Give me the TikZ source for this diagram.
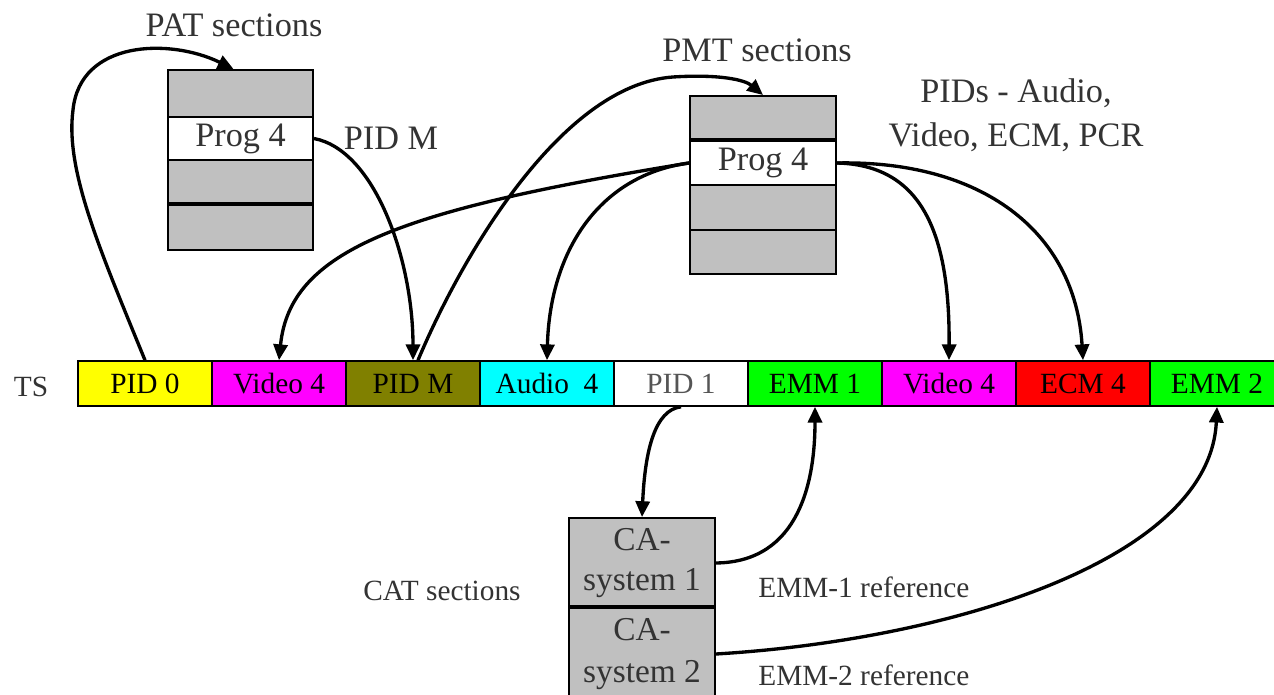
\documentclass[tikz,border=0pt]{standalone}
\usepackage{fontspec}
\setmainfont{Liberation Serif}
\usetikzlibrary{arrows.meta}
\definecolor{lbl}{HTML}{333333}
\definecolor{boxgray}{HTML}{C0C0C0}
\definecolor{olivecell}{HTML}{808000}
\definecolor{greencell}{HTML}{00FF00}
\definecolor{magentacell}{HTML}{FF00FF}
\definecolor{cyancell}{HTML}{00FFFF}
\definecolor{yellowcell}{HTML}{FFFF00}
\definecolor{redcell}{HTML}{FF0000}
\definecolor{pid1text}{HTML}{555555}
\begin{document}
\begin{tikzpicture}[x=0.02cm,y=-0.02cm,
  cell/.style={draw=black,line width=0.9pt,minimum width=2.68cm,minimum height=0.9cm,inner sep=0pt,font=\fontsize{16.7}{20}\selectfont},
  tbl/.style={draw=black,line width=1.1pt,fill=boxgray,minimum width=2.9cm,inner sep=0pt,text=lbl,font=\fontsize{19.5}{24}\selectfont},
  lab/.style={text=lbl,font=\fontsize{19.5}{24}\selectfont,inner sep=0pt},
  slab/.style={text=lbl,font=\fontsize{16.7}{20}\selectfont,inner sep=0pt},
  conn/.style={line width=1.9pt,-{Triangle[length=9pt,width=8pt]}}]
\useasboundingbox (0,0) rectangle (1274,695);

% transport stream cells
\node[cell,fill=yellowcell] (c1) at (145,383.5) {PID 0};
\node[cell,fill=magentacell] (c2) at (279,383.5) {Video 4};
\node[cell,fill=olivecell] (c3) at (413,383.5) {PID M};
\node[cell,fill=cyancell] (c4) at (547,383.5) {Audio\ \ 4};
\node[cell,fill=white,text=pid1text] (c5) at (681,383.5) {PID 1};
\node[cell,fill=greencell] (c6) at (815,383.5) {EMM 1};
\node[cell,fill=magentacell] (c7) at (949,383.5) {Video 4};
\node[cell,fill=redcell] (c8) at (1083,383.5) {ECM 4};
\node[cell,fill=greencell] (c9) at (1217,383.5) {EMM 2};
\node[slab,anchor=base] (ts) at (31,397) {TS};

% PAT table
\node[tbl,minimum height=0.94cm] (pat1) at (240.5,93.5) {};
\node[tbl,fill=white,minimum height=0.86cm] (pat2) at (240.5,138.5) {Prog 4};
\node[tbl,minimum height=0.9cm] (pat3) at (240.5,182.5) {};
\node[tbl,minimum height=0.9cm] (pat4) at (240.5,227.5) {};
\draw[line width=1.8pt] (pat4.north west) -- (pat4.north east);
\node[lab,anchor=base] (patlbl) at (234,37) {PAT sections};
\node[lab,anchor=base] (pidm) at (391,150) {PID M};

% PMT table
\node[tbl,minimum width=2.92cm,minimum height=0.9cm] (pmt1) at (763,118.5) {};
\node[tbl,minimum width=2.92cm,fill=white,minimum height=0.88cm] (pmt2) at (763,163) {Prog 4};
\node[tbl,minimum width=2.92cm,minimum height=0.9cm] (pmt3) at (763,207.5) {};
\node[tbl,minimum width=2.92cm,minimum height=0.88cm] (pmt4) at (763,252) {};
\draw[line width=1.8pt] (pmt2.north west) -- (pmt2.north east);
\node[lab,anchor=base] (pmtlbl) at (757,62) {PMT sections};
\node[lab,anchor=base] (pids1) at (1016,103) {PIDs - Audio,};
\node[lab,anchor=base] (pids2) at (1016,147) {Video, ECM, PCR};

% CAT table
\node[tbl,minimum width=2.92cm,minimum height=1.8cm,align=center,font=\fontsize{19}{22.7}\selectfont] (ca1) at (642,563) {CA-\\system 1};
\node[tbl,minimum width=2.92cm,minimum height=1.84cm,align=center,font=\fontsize{19}{24}\selectfont] (ca2) at (642,654) {CA-\\system 2};
\draw[line width=1.8pt] (ca2.north west) -- (ca2.north east);
\node[slab,anchor=base] (catlbl) at (442,600) {CAT sections};
\node[slab,anchor=base west] (emm1ref) at (758,597) {EMM-1 reference};
\node[slab,anchor=base west] (emm2ref) at (758,685) {EMM-2 reference};

% connectors
\draw[conn] (c1.north) .. controls (100,250) and (65,170) .. (73,110) .. controls (80,40) and (170,38) .. ([xshift=-0.14cm]pat1.north);
\draw[conn] (pat2.east) .. controls (375,150) and (413,260) .. (c3.north);
\draw[conn] ([xshift=0.1cm]c3.north) .. controls (460,260) and (560,85) .. (673,77) .. controls (720,74) and (745,80) .. (pmt1.north);
\draw[conn] (pmt2.west) .. controls (400,210) and (290,250) .. (c2.north);
\draw[conn] (pmt2.west) .. controls (600,175) and (550,250) .. (c4.north);
\draw[conn] (pmt2.east) .. controls (920,165) and (950,230) .. (c7.north);
\draw[conn] (pmt2.east) .. controls (980,160) and (1075,230) .. (c8.north);
\draw[conn] (c5.south) .. controls (655,410) and (645,450) .. (ca1.north);
\draw[conn] (ca1.east) .. controls (800,562) and (815,480) .. (c6.south);
\draw[conn] (ca2.east) .. controls (950,640) and (1210,560) .. (c9.south);
\end{tikzpicture}
\end{document}
